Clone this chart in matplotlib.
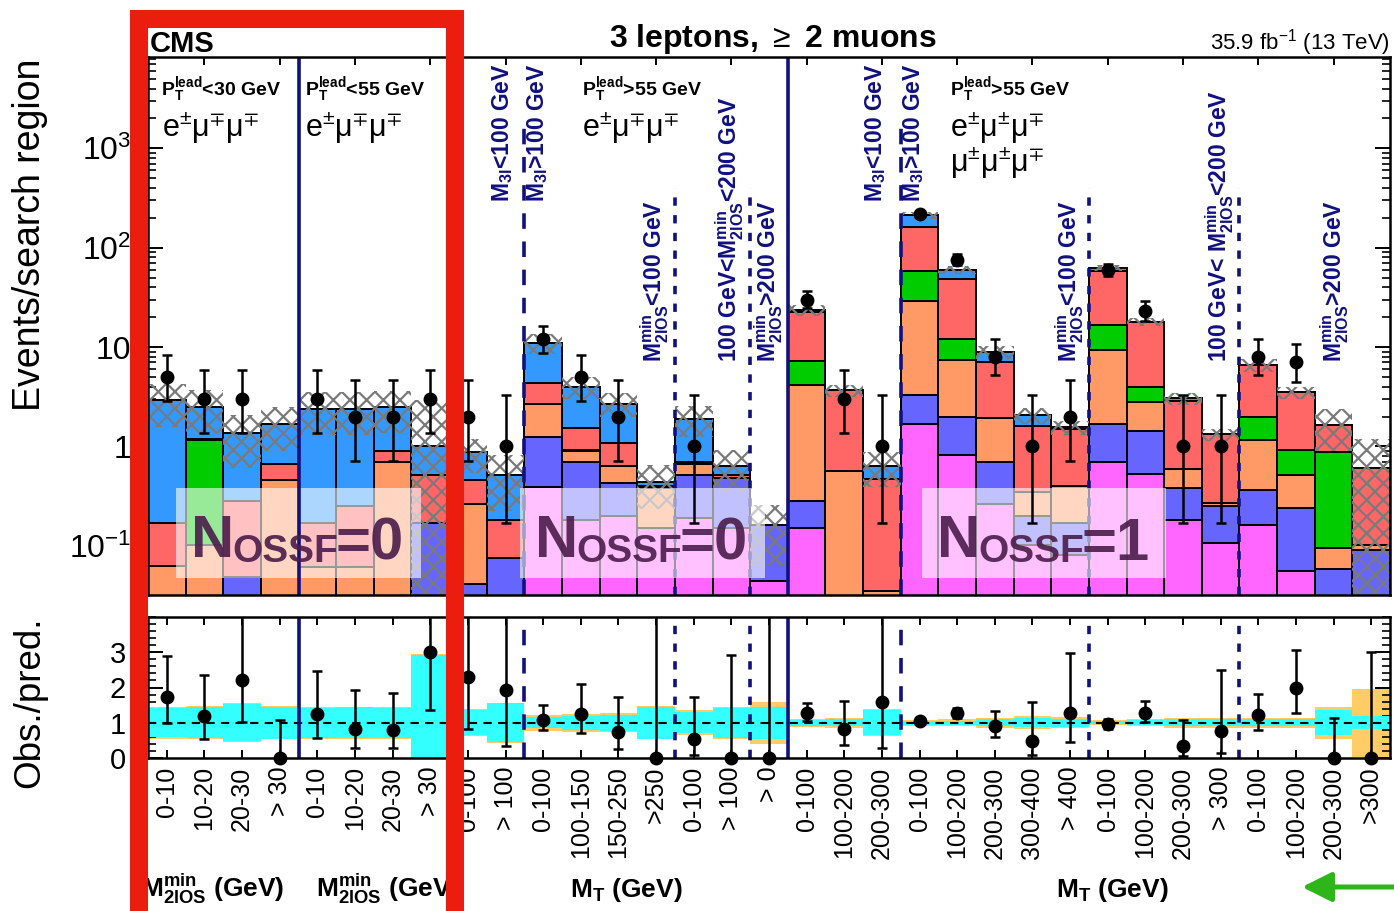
import numpy as np
import matplotlib
matplotlib.use('Agg')
import matplotlib.pyplot as plt
from matplotlib.patches import Rectangle, FancyArrowPatch
from matplotlib.ticker import MultipleLocator, LogLocator, NullFormatter

plt.rcParams['font.family'] = ['Liberation Sans', 'DejaVu Sans']
plt.rcParams['mathtext.fontset'] = 'custom'
plt.rcParams['mathtext.rm'] = 'Liberation Sans'
plt.rcParams['mathtext.bf'] = 'Liberation Sans:bold'
plt.rcParams['mathtext.it'] = 'Liberation Sans:italic'
plt.rcParams['mathtext.sf'] = 'Liberation Sans'
plt.rcParams['mathtext.fallback'] = 'stixsans'
plt.rcParams['hatch.linewidth'] = 1.6
plt.rcParams['hatch.color'] = '#7a7a7a'

# ---- data (33 search regions) ----
bin_labels = ["0-10", "10-20", "20-30", "> 30", "0-10", "10-20", "20-30", "> 30",
              "0-100", "> 100", "0-100", "100-150", "150-250", ">250", "0-100", "> 100", "> 0",
              "0-100", "100-200", "200-300", "0-100", "100-200", "200-300", "300-400", "> 400",
              "0-100", "100-200", "200-300", "> 300", "0-100", "100-200", "200-300", ">300"]

# stacked backgrounds, bottom to top
bkg_magenta = [0, 0, 0, 0, 0, 0, 0, 0, 0, 0, 0.39, 0.18, 0.2, 0.15, 0.19, 0.15, 0.043,
               0.15, 0, 0, 1.67, 0.81, 0.26, 0.1, 0.08, 0.69, 0.53, 0.18, 0.105, 0.16, 0.055, 0, 0]
bkg_slate = [0, 0, 0.048, 0, 0, 0, 0, 0.17, 0.04, 0.074, 0.84, 0.51, 0.23, 0, 0.33, 0.33, 0.117,
             0.13, 0, 0, 1.63, 1.19, 0.43, 0.1, 0.09, 1.01, 0.89, 0.2, 0.145, 0.2, 0.185, 0.057, 0.089]
bkg_orange = [0.061, 0.1, 0, 0.46, 0.06, 0.06, 0.69, 0, 0.22, 0, 1.47, 0.21, 0.21, 0.23, 0.14, 0, 0,
              3.92, 0.57, 0.034, 25.7, 5.4, 1.23, 0.15, 0.23, 7.6, 1.38, 0.21, 0.02, 0.79, 0.27, 0.038, 0.011]
bkg_green = [0, 1.05, 0, 0, 0, 0, 0, 0, 0, 0, 0, 0.03, 0, 0, 0, 0, 0,
             3.0, 0, 0, 29, 4.6, 0, 0, 0, 7.3, 1.2, 0, 0, 0.85, 0.42, 0.775, 0]
bkg_red = [0.109, 0.05, 0.232, 0.2, 0.11, 0.19, 0.2, 0.34, 0.2, 0.106, 1.6, 0.59, 0.43, 0.02, 0.03, 0.03, 0,
           15.4, 3.11, 0.436, 105, 36.6, 5.18, 1.25, 1.1, 41.4, 13.9, 2.26, 1.05, 4.6, 2.57, 0.76, 0.51]
bkg_lblue = [2.73, 1.3, 1.07, 1.04, 2.23, 2.15, 1.61, 0.49, 0.41, 0.34, 6.7, 2.48, 1.63, 0.04, 1.21, 0.12, 0,
             1.0, 0, 0.16, 48, 11.4, 1.8, 0.46, 0.06, 4.8, 0, 0.2, 0, 0, 0, 0, 0]

# relative uncertainties of the prediction
unc_stat = [0.41, 0.44, 0.52, 0.45, 0.43, 0.44, 0.43, 1.92, 0.36, 0.55, 0.15, 0.2, 0.22, 0.45, 0.3, 0.42, 0.45,
            0.08, 0.1, 0.36, 0.05, 0.06, 0.1, 0.13, 0.12, 0.04, 0.07, 0.1, 0.1, 0.1, 0.1, 0.36, 0.18]
unc_tot = [0.46, 0.47, 0.55, 0.47, 0.46, 0.46, 0.45, 1.95, 0.38, 0.57, 0.22, 0.25, 0.27, 0.47, 0.35, 0.45, 0.6,
           0.12, 0.14, 0.38, 0.08, 0.1, 0.14, 0.18, 0.16, 0.07, 0.1, 0.14, 0.14, 0.14, 0.14, 0.45, 0.97]

# observed events with 68% Poisson intervals
obs = [5, 3, 3, 0, 3, 2, 2, 3, 2, 1, 12, 5, 2, 0, 1, 0, 0,
       30, 3, 1, 220, 76, 8, 1, 2, 60, 23, 1, 1, 8, 7, 0, 0]
obs_lo = [2.84, 1.37, 1.37, 0, 1.37, 0.71, 0.71, 1.37, 0.71, 0.17, 8.62, 2.84, 0.71, 0, 0.17, 0, 0,
          24.5, 1.37, 0.17, 205.2, 67.3, 5.23, 0.17, 0.71, 52.3, 18.2, 0.17, 0.17, 5.23, 4.42, 0, 0]
obs_hi = [8.38, 5.92, 5.92, 1.84, 5.92, 4.64, 4.64, 5.92, 4.64, 3.30, 16.4, 8.38, 4.64, 1.84, 3.30, 1.84, 1.84,
          36.5, 5.92, 3.30, 235.8, 85.7, 11.95, 3.30, 4.64, 68.8, 28.8, 3.30, 3.30, 11.95, 10.77, 1.84, 1.84]

W, H = 1394, 911
def fx(px): return px / W
def fy(py): return 1 - py / H

navy = '#10107f'
fig = plt.figure(figsize=(W / 100, H / 100), dpi=100)
ax = fig.add_axes([fx(148), fy(595), fx(1390) - fx(148), fy(57) - fy(595)])
rax = fig.add_axes([fx(148), fy(758), fx(1390) - fx(148), fy(617) - fy(758)])

nb = len(bin_labels)
x = np.arange(nb) + 0.5
base = 1e-3
bottom = np.full(nb, base)
for vals, col in [(bkg_magenta, '#ff66ff'), (bkg_slate, '#6666ff'), (bkg_orange, '#ff9966'),
                  (bkg_green, '#00cc00'), (bkg_red, '#ff6666'), (bkg_lblue, '#3399ff')]:
    v = np.array(vals, dtype=float)
    m = v > 0
    ax.bar(x[m], v[m], bottom=bottom[m], width=1, color=col, edgecolor='black', linewidth=1.4, zorder=2)
    bottom = bottom + v
total = bottom - base

ut = np.array(unc_tot)
us = np.array(unc_stat)
up = total * (1 + ut)
lo = np.clip(total * (1 - ut), base, None)
ax.bar(x, up - lo, bottom=lo, width=1, fill=False, hatch='xx', edgecolor='#7a7a7a', linewidth=0, zorder=3)

o = np.array(obs, dtype=float)
olo = np.array(obs_lo)
ohi = np.array(obs_hi)
m = o > 0
ax.errorbar(x[m], o[m], yerr=[o[m] - olo[m], ohi[m] - o[m]], fmt='o', color='black', ms=9,
            elinewidth=1.8, capsize=3.5, capthick=1.8, zorder=6)

# region separators
for a in (ax, rax):
    for b in (4, 17):
        a.axvline(b, color=navy, lw=2.6, zorder=8)
for b in (10, 20):
    ax.axvline(b, ymax=0.868, color=navy, lw=2.6, ls=(0, (4.3, 3.5)), zorder=4)
    rax.axvline(b, color=navy, lw=2.6, ls=(0, (4.3, 3.5)), zorder=4)
for b in (14, 16, 25, 29):
    ax.axvline(b, ymax=0.7565, color=navy, lw=2.6, ls=(0, (2.3, 2.6)), zorder=4)
    rax.axvline(b, color=navy, lw=2.6, ls=(0, (2.3, 2.6)), zorder=4)

# N_OSSF boxes
for left, right, tail in [(176, 421, '=0'), (520, 765, '=0'), (922, 1166, '=1')]:
    ax.add_patch(Rectangle(((left - 148) / 1242, (595 - 578) / 538), (right - left) / 1242, 90 / 538,
                           transform=ax.transAxes, facecolor='white', alpha=0.6, edgecolor='none', zorder=5))
    tc = '#4a1c4a'
    fig.text(fx(left + 15), fy(557), 'N', fontsize=43, fontweight='bold', color=tc, alpha=0.9, va='baseline')
    fig.text(fx(left + 56), fy(562), 'OSSF', fontsize=28, fontweight='bold', color=tc, alpha=0.9, va='baseline')
    fig.text(fx(left + 160), fy(560), tail, fontsize=43, fontweight='bold', color=tc, alpha=0.9, va='baseline')

# main axis styling
ax.set_xlim(0, nb)
ax.set_yscale('log')
ax.set_ylim(0.032, 8300)
ax.set_xticks(np.arange(1, nb, 2) + 0.5)
ax.tick_params(axis='x', which='both', direction='in', top=True, bottom=True, length=6, width=1.4,
               labelbottom=False)
ax.set_yticks([0.1, 1, 10, 100, 1000], labels=['$10^{-1}$', '1', '10', '$10^{2}$', '$10^{3}$'])
ax.yaxis.set_minor_locator(LogLocator(base=10, subs=np.arange(2, 10) * 1.0, numticks=20))
ax.yaxis.set_minor_formatter(NullFormatter())
ax.tick_params(axis='y', which='major', direction='in', left=True, right=True, length=11, width=1.4,
               labelsize=23, pad=12)
ax.tick_params(axis='y', which='minor', direction='in', left=True, right=True, length=5.5, width=1.2)
for s in ax.spines.values():
    s.set_linewidth(1.8)
    s.set_zorder(10)

# ratio panel
pred = total
ratio = o / pred
rax.bar(x, 2 * ut, bottom=1 - ut, width=1, color='#ffcc66', linewidth=0, zorder=1)
rax.bar(x, 2 * us, bottom=1 - us, width=1, color='#33ffff', linewidth=0, zorder=2)
rax.axhline(1, color='black', lw=1.5, ls=(0, (4, 3)), zorder=3)
rax.errorbar(x, ratio, yerr=[(o - olo) / pred, (ohi - o) / pred], fmt='none', ecolor='black',
             elinewidth=1.8, capsize=3.5, capthick=1.8, zorder=6)
rax.plot(x, ratio, 'o', color='black', ms=9, clip_on=False, zorder=7)
rax.set_xlim(0, nb)
rax.set_ylim(0, 4)
rax.set_xticks(x, labels=bin_labels, rotation=90, fontsize=18)
rax.tick_params(axis='x', direction='in', top=True, bottom=True, length=6, width=1.4, pad=6)
rax.set_yticks([0, 1, 2, 3])
rax.yaxis.set_minor_locator(MultipleLocator(0.2))
rax.tick_params(axis='y', which='major', direction='in', left=True, right=True, length=11, width=1.4,
                labelsize=21, pad=16)
rax.tick_params(axis='y', which='minor', direction='in', left=True, right=True, length=6, width=1.2)
for s in rax.spines.values():
    s.set_linewidth(1.8)
    s.set_zorder(10)

# texts
fig.text(fx(30), fy(235), 'Events/search region', rotation=90, ha='center', va='center', fontsize=27)
fig.text(fx(30), fy(702), 'Obs./pred.', rotation=90, ha='center', va='center', fontsize=26.5)
fig.text(fx(150), fy(52), 'CMS', fontsize=21, fontweight='bold', va='baseline')
fig.text(fx(773), fy(47), r'3 leptons, $\geq$ 2 muons', fontsize=23, fontweight='bold', ha='center',
         va='baseline')
fig.text(fx(1390), fy(50), r'35.9 fb$^{\mathrm{-1}}$ (13 TeV)', fontsize=16, ha='right', va='baseline')

for xp, s in [(161, '<30 GeV'), (305, '<55 GeV'), (582, '>55 GeV'), (950, '>55 GeV')]:
    fig.text(fx(xp), fy(95), r'$\mathbf{P_T^{lead}}$' + s, fontsize=14, fontweight='bold', va='baseline')
for xp, yp, s in [(162, 137, r'$\mathrm{e^{\pm}\mu^{\mp}\mu^{\mp}}$'),
                  (305, 137, r'$\mathrm{e^{\pm}\mu^{\mp}\mu^{\mp}}$'),
                  (582, 137, r'$\mathrm{e^{\pm}\mu^{\mp}\mu^{\mp}}$'),
                  (950, 137, r'$\mathrm{e^{\pm}\mu^{\pm}\mu^{\mp}}$'),
                  (950, 172, r'$\mathrm{\mu^{\pm}\mu^{\pm}\mu^{\mp}}$')]:
    fig.text(fx(xp), fy(yp), s, fontsize=22, va='baseline')

m3 = r'$\mathbf{M_{3l}}$'
m2 = r'$\mathbf{M_{2lOS}^{min}}$'
for xp, yp, s in [(503, 202, m3 + '<100 GeV'), (538, 202, m3 + '>100 GeV'),
                  (655, 362, m2 + '<100 GeV'), (730, 362, '100 GeV<' + m2 + '<200 GeV'),
                  (769, 362, m2 + '>200 GeV'),
                  (876, 202, m3 + '<100 GeV'), (914, 202, m3 + '>100 GeV'),
                  (1070, 362, m2 + '<100 GeV'), (1220, 362, '100 GeV< ' + m2 + '<200 GeV'),
                  (1335, 362, m2 + '>200 GeV')]:
    fig.text(fx(xp), fy(yp), s, rotation=90, ha='center', va='bottom', fontsize=16.5,
             fontweight='bold', color=navy)

for xp, s in [(213, m2 + ' (GeV)'), (388, m2 + ' (GeV)'), (626, r'$\mathbf{M_T}$ (GeV)'),
              (1112, r'$\mathbf{M_T}$ (GeV)')]:
    fig.text(fx(xp), fy(897), s, fontsize=19, fontweight='bold', ha='center', va='baseline')

# hand-drawn style highlight and arrow
fig.add_artist(Rectangle((fx(139), fy(930)), fx(455) - fx(139), fy(19) - fy(930), transform=fig.transFigure,
                         fill=False, edgecolor='#ea1d0e', linewidth=13, zorder=20, clip_on=False))
fig.add_artist(FancyArrowPatch((fx(1400), fy(887)), (fx(1302), fy(887)), transform=fig.transFigure,
                               arrowstyle='-|>,head_length=0.9,head_width=0.45', mutation_scale=20,
                               lw=3.6, color='#2db51a', shrinkA=0, shrinkB=0, zorder=20))

fig.savefig('out.png', dpi=100)
